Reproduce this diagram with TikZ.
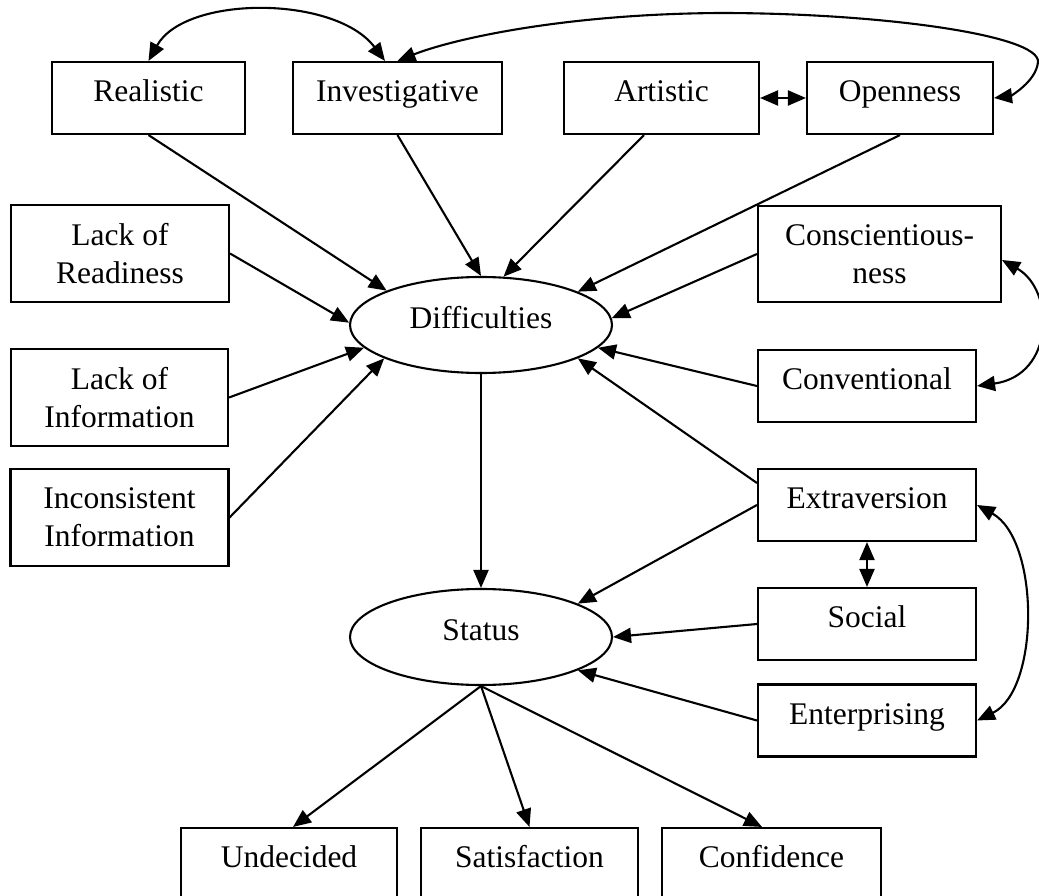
\documentclass[tikz,border=0pt]{standalone}
\usepackage{fontspec}
\setmainfont{Liberation Serif}
\usetikzlibrary{arrows.meta,shapes.geometric}

\begin{document}
\begin{tikzpicture}[x=1pt,y=-1pt,
  every node/.style={font=\fontsize{31.5}{38}\selectfont, inner sep=0pt, line width=2.1pt},
  box/.style={draw, rectangle, minimum height=72pt, text height=22pt, text depth=14.2pt},
  tallbox/.style={draw, rectangle, minimum height=97pt, align=center},
  latent/.style={draw, ellipse, minimum width=262pt, minimum height=96pt, text height=22pt, text depth=14.2pt},
  tip/.style={Triangle[length=18pt,width=15pt]},
  link/.style={line width=2.1pt, -{Triangle[length=18pt,width=15pt]}},
  both/.style={line width=2.1pt, {Triangle[length=18pt,width=15pt]}-{Triangle[length=18pt,width=15pt]}}
]
\path[use as bounding box, fill=white] (0,0) rectangle (1039,896);

% observed predictors, top row
\node[box, minimum width=193pt] (real) at (148.5,98) {Realistic};
\node[box, minimum width=209pt] (inv) at (397.5,98) {Investigative};
\node[box, minimum width=195pt] (art) at (661.5,98) {Artistic};
\node[box, minimum width=186pt] (open) at (900,98) {Openness};

% left column
\node[tallbox, minimum width=218pt] (ready) at (120,253.5) {Lack of\\Readiness};
\node[tallbox, minimum width=217pt] (info) at (119.5,397.5) {Lack of\\Information};
\node[tallbox, minimum width=218pt] (incon) at (119.5,517.5) {Inconsistent\\Information};

% right column
\node[tallbox, minimum width=243pt, minimum height=96pt] (consc) at (879.5,254) {Conscientious-\\ness};
\node[box, minimum width=218pt] (conv) at (867,386) {Conventional};
\node[box, minimum width=218pt] (extra) at (867,505) {Extraversion};
\node[box, minimum width=218pt] (social) at (867,624) {Social};
\node[box, minimum width=218pt] (enter) at (867,720.5) {Enterprising};

% latent variables
\node[latent] (diff) at (481,325) {Difficulties};
\node[latent] (status) at (481,637) {Status};

% outcomes
\node[box, minimum width=216pt] (undec) at (289,864) {Undecided};
\node[box, minimum width=217pt] (satis) at (529.5,864) {Satisfaction};
\node[box, minimum width=219pt] (conf) at (771.5,864) {Confidence};

% paths into Difficulties
\draw[link] (real.south) -- (diff.160);
\draw[link] (inv.south) -- (diff.north);
\draw[link] ([xshift=-17.5pt]art.south) -- (diff.65);
\draw[link] (open.south) -- (diff.19);
\draw[link] (consc.west) -- (diff.3);
\draw[link] (conv.west) -- (diff.-11);
\draw[link] ([yshift=22pt]extra.west) -- (diff.-19);
\draw[link] (ready.east) -- (diff.179);
\draw[link] (info.east) -- (diff.191);
\draw[link] (incon.east) -- (diff.199);

% paths into Status
\draw[link] (diff.south) -- (status.north);
\draw[link] (extra.west) -- (status.19);
\draw[link] (social.west) -- (status.east);
\draw[link] (enter.west) -- (status.-19);

% paths out of Status
\draw[link] (status.south) -- ([xshift=4pt]undec.north);
\draw[link] (status.south) -- (satis.north);
\draw[link] (status.south) -- ([xshift=-9.5pt]conf.north);

% correlations
\draw[both] (art.east) -- (open.west);
\draw[both] (extra.south) -- (social.north);
\draw[both] (real.north) .. controls (185,-5) and (335,-5) .. ([xshift=-12.5pt]inv.north);
\draw[both] (inv.north) .. controls (450,40) and (560,14) .. (720,13)
  .. controls (880,13) and (1040,35) .. (1038,62)
  .. controls (1036,82) and (1010,96) .. (open.east);
\draw[both] ([yshift=-6pt]consc.east) .. controls (1055,290) and (1055,375) .. (conv.east);
\draw[both] (extra.east) .. controls (1040,540) and (1040,690) .. (enter.east);
\end{tikzpicture}
\end{document}
